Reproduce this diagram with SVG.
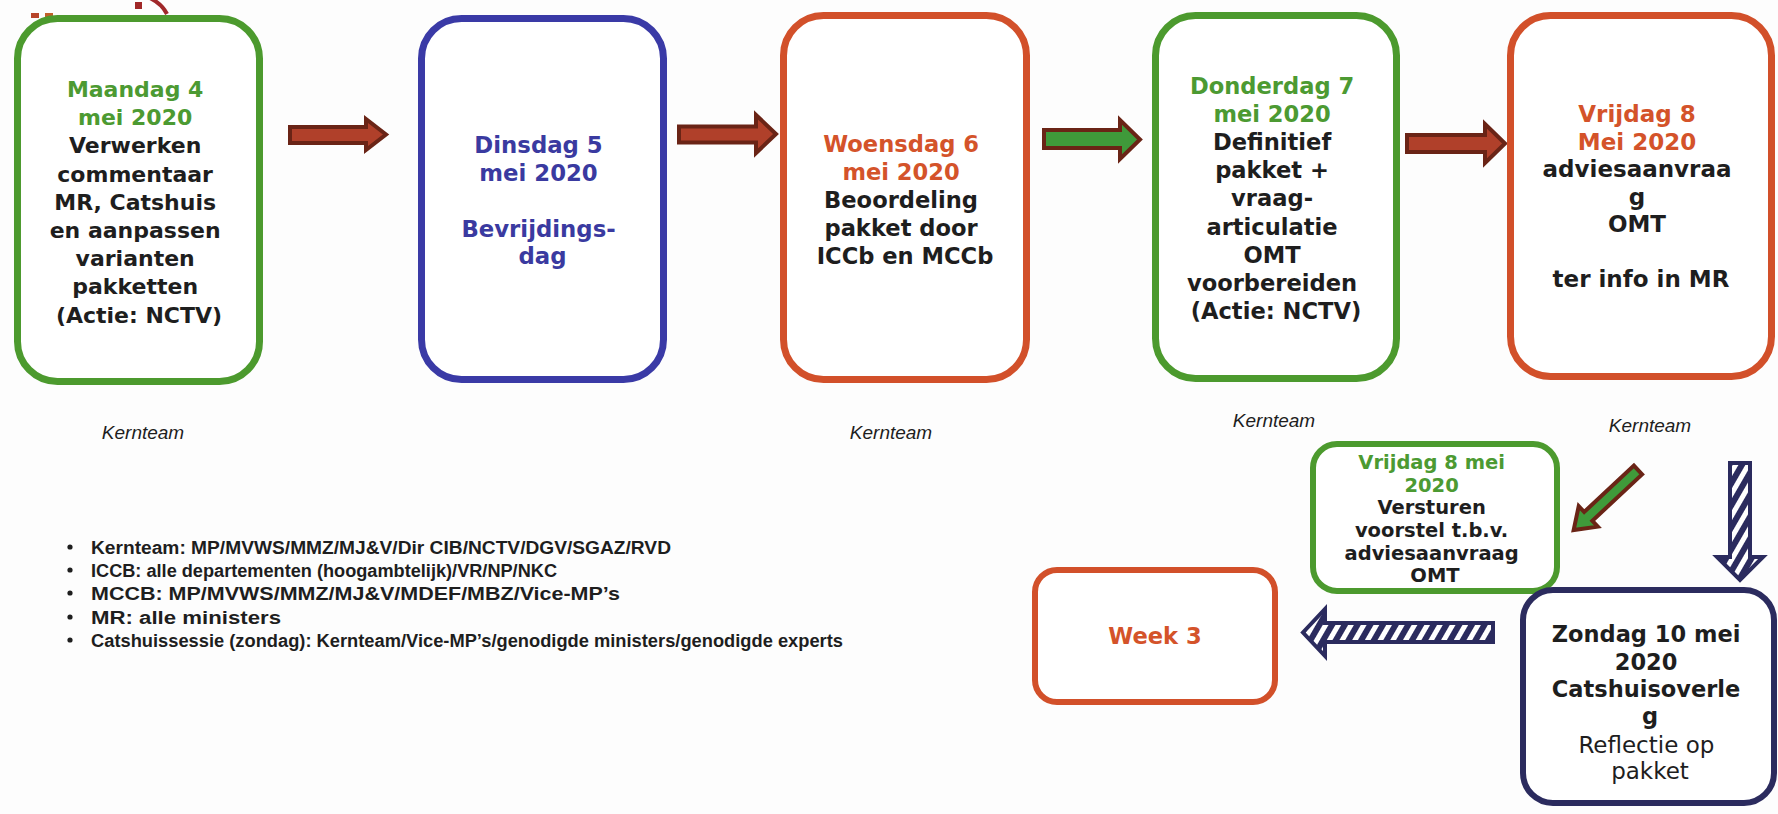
<svg xmlns="http://www.w3.org/2000/svg" width="1778" height="814" viewBox="0 0 1778 814">
<style>
.bg{fill:#fdfdfd}
.box{fill:#ffffff;stroke-width:7}
.g{stroke:#4c9a2e}
.b{stroke:#3a3aa6}
.o{stroke:#d2502a}
.n{stroke:#2b2b5e}
.t{font-family:"DejaVu Sans","Liberation Sans",sans-serif;font-weight:bold;font-size:22.6px;text-anchor:middle;fill:#1e1e1e}
.tg{fill:#4c9a32}
.tb{fill:#3a3aa0}
.to{fill:#d4532a}
.reg{font-weight:normal}
.k{font-family:"Liberation Sans",Arial,sans-serif;font-style:italic;font-size:19px;text-anchor:middle;fill:#1e1e1e}
.bl{font-family:"Liberation Sans",Arial,sans-serif;font-weight:bold;font-size:18px;fill:#1e1e1e}
.ra{fill:#b0402a;stroke:#6a2416;stroke-width:4;stroke-linejoin:miter}
.ga{fill:#3f9a3a;stroke:#6a2416;stroke-width:4;stroke-linejoin:miter}
.sa{fill:url(#stripes);stroke:#2b2b5e;stroke-width:4;stroke-linejoin:miter}
</style>
<defs>
<pattern id="stripes" width="11" height="11" patternUnits="userSpaceOnUse" patternTransform="rotate(30)">
<rect width="11" height="11" fill="#ffffff"/>
<rect width="6" height="11" fill="#2b2b5e"/>
</pattern>
</defs>
<rect class="bg" width="1778" height="814"/>

<g id="scribble">
<path d="M150,-2 Q162,4 167,14" fill="none" stroke="#a0282a" stroke-width="4"/>
<rect x="135" y="2" width="7" height="7" fill="#a02828"/>
<rect x="31" y="13" width="8" height="5" fill="#b8452a"/>
<rect x="45" y="13" width="8" height="4" fill="#c0602a"/>
</g>

<g id="connectors">
<path class="ra" d="M290,127 H366 V119 L386,134.5 L366,150 V143 H290 Z"/>
<path class="ra" d="M679,126.5 H756 V115 L776,134 L756,153 V142.5 H679 Z"/>
<path class="ga" d="M1044,130 H1120 V120 L1140,139.5 L1120,159 V148 H1044 Z"/>
<path class="ra" d="M1407,135 H1485 V124 L1505,143.5 L1485,163 V152 H1407 Z"/>
<path class="ga" transform="translate(1638,470) rotate(137)" d="M0,-6 H68 V-14 L88,0 L68,14 V6 H0 Z"/>
<path class="sa" d="M1730,463 H1750 V557 H1763 L1740,580 L1717,557 H1730 Z"/>
<path class="sa" d="M1493,623 V642 H1325 V656 L1303,632.5 L1325,609 V623 Z"/>
</g>

<g id="maandag">
<rect class="box g" x="17.5" y="18.5" width="242" height="363" rx="40"/>
<text class="t" style="font-size:22px">
<tspan class="tg" x="139" y="97">Maandag 4</tspan>
<tspan class="tg" x="139" y="125.2">mei 2020</tspan>
<tspan x="139" y="153.4">Verwerken</tspan>
<tspan x="139" y="181.6">commentaar</tspan>
<tspan x="139" y="209.8">MR, Catshuis</tspan>
<tspan x="139" y="238">en aanpassen</tspan>
<tspan x="139" y="266.2">varianten</tspan>
<tspan x="139" y="294.4">pakketten</tspan>
<tspan x="139" y="322.6">(Actie: NCTV)</tspan>
</text>
<text class="k" x="143" y="439">Kernteam</text>
</g>

<g id="dinsdag">
<rect class="box b" x="421.5" y="18.5" width="242" height="361" rx="40"/>
<text class="t tb" style="font-size:22.8px">
<tspan x="542.5" y="153">Dinsdag 5</tspan>
<tspan x="542.5" y="180.5">mei 2020</tspan>
<tspan x="542.5" y="236.5">Bevrijdings-</tspan>
<tspan x="542.5" y="264">dag</tspan>
</text>
</g>

<g id="woensdag">
<rect class="box o" x="783.5" y="15.5" width="243" height="364" rx="40"/>
<text class="t">
<tspan class="to" x="905" y="152">Woensdag 6</tspan>
<tspan class="to" x="905" y="180">mei 2020</tspan>
<tspan x="905" y="208">Beoordeling</tspan>
<tspan x="905" y="236">pakket door</tspan>
<tspan x="905" y="264">ICCb en MCCb</tspan>
</text>
<text class="k" x="891" y="439">Kernteam</text>
</g>

<g id="donderdag">
<rect class="box g" x="1155.5" y="15.5" width="241" height="363" rx="40"/>
<text class="t">
<tspan class="tg" x="1276" y="94">Donderdag 7</tspan>
<tspan class="tg" x="1276" y="122.1">mei 2020</tspan>
<tspan x="1276" y="150.2">Definitief</tspan>
<tspan x="1276" y="178.3">pakket +</tspan>
<tspan x="1276" y="206.4">vraag-</tspan>
<tspan x="1276" y="234.5">articulatie</tspan>
<tspan x="1276" y="262.6">OMT</tspan>
<tspan x="1276" y="290.7">voorbereiden</tspan>
<tspan x="1276" y="318.8">(Actie: NCTV)</tspan>
</text>
<text class="k" x="1274" y="427">Kernteam</text>
</g>

<g id="vrijdag">
<rect class="box o" x="1510.5" y="15.5" width="261" height="361" rx="40"/>
<text class="t" style="font-size:23px">
<tspan class="to" x="1641" y="122">Vrijdag 8</tspan>
<tspan class="to" x="1641" y="149.5">Mei 2020</tspan>
<tspan x="1641" y="177">adviesaanvraa</tspan>
<tspan x="1641" y="204.5">g</tspan>
<tspan x="1641" y="232">OMT</tspan>
<tspan x="1641" y="287">ter info in MR</tspan>
</text>
<text class="k" x="1650" y="432">Kernteam</text>
</g>

<g id="vrijdag-versturen">
<rect class="box g" style="stroke-width:6" x="1313" y="444" width="244" height="147" rx="24"/>
<text class="t" style="font-size:19.5px">
<tspan class="tg" x="1435" y="469">Vrijdag 8 mei</tspan>
<tspan class="tg" x="1435" y="491.5">2020</tspan>
<tspan x="1435" y="514">Versturen</tspan>
<tspan x="1435" y="537">voorstel t.b.v.</tspan>
<tspan x="1435" y="559.5">adviesaanvraag</tspan>
<tspan x="1435" y="582">OMT</tspan>
</text>
</g>

<g id="zondag">
<rect class="box n" style="stroke-width:6" x="1523" y="590" width="251" height="213" rx="30"/>
<text class="t" style="font-size:22.5px">
<tspan x="1650" y="642">Zondag 10 mei</tspan>
<tspan x="1650" y="669.5">2020</tspan>
<tspan x="1650" y="697">Catshuisoverle</tspan>
<tspan x="1650" y="724">g</tspan>
</text>
<text class="t reg" style="font-size:23px">
<tspan x="1650" y="753">Reflectie op</tspan>
<tspan x="1650" y="779">pakket</tspan>
</text>
</g>

<g id="week3">
<rect class="box o" style="stroke-width:6" x="1035" y="570" width="240" height="132" rx="22"/>
<text class="t to" x="1155" y="644">Week 3</text>
</g>

<g id="legend">
<circle cx="70" cy="547" r="2.6" fill="#1e1e1e"/>
<circle cx="70" cy="570" r="2.6" fill="#1e1e1e"/>
<circle cx="70" cy="593" r="2.6" fill="#1e1e1e"/>
<circle cx="70" cy="617" r="2.6" fill="#1e1e1e"/>
<circle cx="70" cy="640" r="2.6" fill="#1e1e1e"/>
<text class="bl" x="91" y="554" textLength="580" lengthAdjust="spacingAndGlyphs">Kernteam: MP/MVWS/MMZ/MJ&amp;V/Dir CIB/NCTV/DGV/SGAZ/RVD</text>
<text class="bl" x="91" y="577" textLength="466" lengthAdjust="spacingAndGlyphs">ICCB: alle departementen (hoogambtelijk)/VR/NP/NKC</text>
<text class="bl" x="91" y="600" textLength="529" lengthAdjust="spacingAndGlyphs">MCCB: MP/MVWS/MMZ/MJ&amp;V/MDEF/MBZ/Vice-MP’s</text>
<text class="bl" x="91" y="624" textLength="190" lengthAdjust="spacingAndGlyphs">MR: alle ministers</text>
<text class="bl" x="91" y="647" textLength="752" lengthAdjust="spacingAndGlyphs">Catshuissessie (zondag): Kernteam/Vice-MP’s/genodigde ministers/genodigde experts</text>
</g>
</svg>
